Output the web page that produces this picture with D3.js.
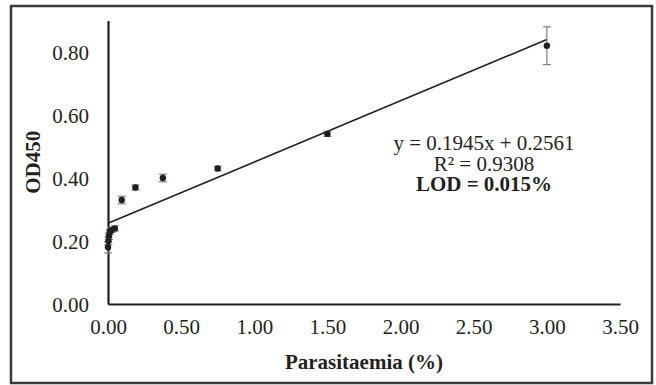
<!DOCTYPE html>
<html>
<head>
<meta charset="utf-8">
<script src="https://cdn.jsdelivr.net/npm/d3@7"></script>
<style>
    body { margin: 0; background: #fff; }
    svg text { font-family: "Liberation Serif", "Times New Roman", serif; fill: #231f20; }
</style>
</head>
<body>
<svg id="chartsvg" width="656" height="385"></svg>
<script>
// parasitaemia dilution series (%), mean OD450 and error
var parasitaemia = [3, 1.5, 0.75, 0.375, 0.1875, 0.09375, 0.046875, 0.0234375, 0.01171875, 0.005859375, 0.0029296875, 0];
var od450 = [0.82, 0.54, 0.43, 0.40, 0.37, 0.33, 0.24, 0.235, 0.228, 0.215, 0.20, 0.18];
var errors = [0.06, 0.008, 0.007, 0.012, 0.008, 0.012, 0.008, 0.008, 0.008, 0.01, 0.012, 0.018];

var xTicks = [0, 0.5, 1, 1.5, 2, 2.5, 3, 3.5];
var yTicks = [0, 0.2, 0.4, 0.6, 0.8];

var slope = 0.1945;
var intercept = 0.2561;
var annotation = ["y = 0.1945x + 0.2561", "R\u00b2 = 0.9308", "LOD = 0.015%"];

function drawChart() {
    var svg = d3.select("svg#chartsvg");

    var x = d3.scaleLinear().domain([0, 3.5]).range([108, 620]);
    var y = d3.scaleLinear().domain([0, 0.9]).range([304, 20.5]);

    // outer frame
    svg.append("rect")
        .attr("x", 11)
        .attr("y", 6)
        .attr("width", 641)
        .attr("height", 377)
        .attr("fill", "none")
        .attr("stroke", "#3a3a3a")
        .attr("stroke-width", 2.5);

    // y axis
    var yAxis = svg.append("g")
        .attr("transform", "translate(" + x(0) + ",0)")
        .call(d3.axisLeft(y).tickValues(yTicks).tickSize(0).tickPadding(19).tickFormat(d3.format(".2f")));
    yAxis.select(".domain").attr("stroke", "#231f20").attr("stroke-width", 2.2);
    yAxis.selectAll("text").attr("font-size", 21).attr("font-family", "Liberation Serif").attr("dy", "0.34em");

    // x axis
    var xAxis = svg.append("g")
        .attr("transform", "translate(0," + y(0) + ")")
        .call(d3.axisBottom(x).tickValues(xTicks).tickSize(0).tickPadding(15).tickFormat(d3.format(".2f")));
    xAxis.select(".domain").attr("stroke", "#231f20").attr("stroke-width", 2.2);
    xAxis.selectAll("text").attr("font-size", 21).attr("font-family", "Liberation Serif");

    // trend line
    svg.append("line")
        .attr("x1", x(0))
        .attr("y1", y(intercept))
        .attr("x2", x(d3.max(parasitaemia)))
        .attr("y2", y(slope * d3.max(parasitaemia) + intercept))
        .attr("stroke", "#231f20")
        .attr("stroke-width", 1.6);

    var points = parasitaemia.map(function(p, i) {
        return {x: p, y: od450[i], e: errors[i]};
    });

    // error bars
    var bars = svg.append("g").attr("id", "errorbars");
    points.forEach(function(d) {
        var cx = x(d.x);
        bars.append("line")
            .attr("x1", cx).attr("x2", cx)
            .attr("y1", y(d.y - d.e)).attr("y2", y(d.y + d.e))
            .attr("stroke", "#808080").attr("stroke-width", 1.2);
        [d.y - d.e, d.y + d.e].forEach(function(v) {
            bars.append("line")
                .attr("x1", cx - 4).attr("x2", cx + 4)
                .attr("y1", y(v)).attr("y2", y(v))
                .attr("stroke", "#808080").attr("stroke-width", 1.2);
        });
    });

    // markers
    svg.append("g")
        .selectAll("circle")
        .data(points)
        .enter()
        .append("circle")
        .attr("cx", function(d) { return x(d.x); })
        .attr("cy", function(d) { return y(d.y); })
        .attr("r", 3.2)
        .attr("fill", "#231f20");

    // equation text
    svg.append("g")
        .selectAll("text")
        .data(annotation)
        .enter()
        .append("text")
        .attr("x", 484)
        .attr("y", function(d, i) { return 150 + i * 20.5; })
        .attr("text-anchor", "middle")
        .attr("font-size", 21)
        .attr("font-weight", function(d, i) { return i == 2 ? "bold" : "normal"; })
        .text(function(d) { return d; });

    // axis titles
    svg.append("text")
        .attr("x", x(1.75))
        .attr("y", 369)
        .attr("text-anchor", "middle")
        .attr("font-size", 21)
        .attr("font-weight", "bold")
        .text("Parasitaemia (%)");

    svg.append("text")
        .attr("transform", "translate(40," + y(0.45) + ") rotate(-90)")
        .attr("text-anchor", "middle")
        .attr("font-size", 21)
        .attr("font-weight", "bold")
        .text("OD450");
}

drawChart();
</script>
</body>
</html>
